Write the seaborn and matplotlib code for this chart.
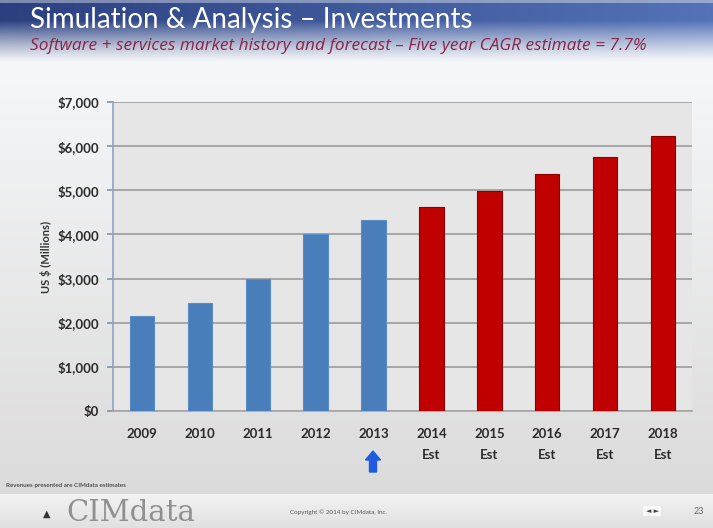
import matplotlib
matplotlib.use("Agg")
import matplotlib.pyplot as plt
import seaborn as sns
import numpy as np
import pandas as pd

# ---- data ----
years = ["2009", "2010", "2011", "2012", "2013", "2014", "2015", "2016", "2017", "2018"]
revenue = [2150, 2450, 3000, 4000, 4330, 4630, 4990, 5370, 5760, 6240]
period = ["History"] * 5 + ["Forecast"] * 5
tick_labels = ["2009", "2010", "2011", "2012", "2013",
               "2014\nEst", "2015\nEst", "2016\nEst", "2017\nEst", "2018\nEst"]
y_ticks = [0, 1000, 2000, 3000, 4000, 5000, 6000, 7000]
y_tick_labels = ["$0", "$1,000", "$2,000", "$3,000", "$4,000", "$5,000", "$6,000", "$7,000"]

title = "Simulation & Analysis \u2013 Investments"
subtitle = "Software + services market history and forecast \u2013 Five year CAGR estimate = 7.7%"
y_label = "US $ (Millions)"
note = "Revenues presented are CIMdata estimates"
copyright_text = "Copyright \u00a9 2014 by CIMdata, Inc."
page = "23"

df = pd.DataFrame({"year": years, "revenue": revenue, "period": period})

sns.set_theme(style="white")
plt.rcParams["font.family"] = ["Lato", "DejaVu Sans"]

W, H = 713, 528
fig = plt.figure(figsize=(W / 100, H / 100), dpi=100)

# ---- slide background ----
bg = fig.add_axes([0, 0, 1, 1], zorder=-10)
yy, xx = np.mgrid[0:H, 0:W].astype(float)
img = np.zeros((H, W, 3))
t = np.clip((yy - 62) / (490 - 62), 0, 1)
top_c = np.array([0.965, 0.97, 0.975])
bot_c = np.array([0.86, 0.86, 0.86])
img[:] = top_c * (1 - t[..., None]) + bot_c * t[..., None]
blue_l = np.array([0.17, 0.25, 0.50])
blue_r = np.array([0.33, 0.45, 0.72])
bx = (xx / W)[..., None]
blue = blue_l * (1 - bx) + blue_r * bx
a = np.clip(1 - (yy - 20) / 42, 0, 1) ** 1.2
a[yy < 3] *= 0.6
img = img * (1 - a[..., None]) + blue * a[..., None]
f = (yy >= 494)
tf = np.clip((yy - 494) / 34, 0, 1)
foot = np.array([0.95, 0.95, 0.95]) * (1 - tf[..., None]) + np.array([0.88, 0.88, 0.88]) * tf[..., None]
img[f] = foot[f]
bg.imshow(img, extent=[0, 1, 0, 1], aspect="auto", origin="upper")
bg.set_xlim(0, 1)
bg.set_ylim(0, 1)
bg.axis("off")

# ---- chart ----
ax = fig.add_axes([113 / W, 1 - 411 / H, (692 - 113) / W, (411 - 102) / H])
ax.set_facecolor("#e6e6e6")
sns.barplot(data=df, x="year", y="revenue", hue="period",
            palette={"History": "#4a7ebb", "Forecast": "#c00000"},
            saturation=1, width=0.42, dodge=False, legend=False, ax=ax,
            edgecolor=None, linewidth=0)
for p, per in zip(ax.patches, period):
    p.set_edgecolor("#8a0000" if per == "Forecast" else "#5a8cc8")
    p.set_linewidth(0.8)
    p.set_zorder(3)

ax.set_ylim(0, 7000)
ax.set_xlim(-0.5, len(years) - 0.5)
ax.set_yticks(y_ticks)
ax.set_yticklabels(y_tick_labels, fontsize=9.5, fontweight="bold", color="#2a2a2a")
ax.set_xticks(range(len(years)))
ax.set_xticklabels(tick_labels, fontsize=9.5, fontweight="bold", color="#2a2a2a",
                   linespacing=1.9)
ax.yaxis.grid(True, color="#a6a6a6", linewidth=1.4, zorder=0)
ax.set_axisbelow(True)
ax.tick_params(axis="y", length=4, color="#8899aa", pad=6, left=True)
ax.tick_params(axis="x", length=0, pad=12)
for s in ["top", "right"]:
    ax.spines[s].set_visible(False)
ax.spines["left"].set_color("#8fa3c0")
ax.spines["left"].set_linewidth(1.2)
ax.spines["bottom"].set_color("#a6a6a6")
ax.spines["bottom"].set_linewidth(1.2)
ax.set_xlabel("")
ax.set_ylabel(y_label, fontsize=8, fontweight="bold", color="#333333", labelpad=4)

# ---- text ----
fig.text(30 / W, 1 - 20 / H, title, fontsize=20, color="white", va="center", ha="left")
fig.text(30 / W, 1 - 46 / H, subtitle, fontsize=12.4, color="#8b2346",
         style="italic", va="center", ha="left", family=["Open Sans", "DejaVu Sans"])
fig.text(6 / W, 1 - 486 / H, note, fontsize=4.5, color="#222222", va="center", ha="left")
fig.text(66 / W, 1 - 513 / H, "CIMdata", fontsize=21, color="#909090",
         family=["DejaVu Serif"], va="center", ha="left")
fig.text(47 / W, 1 - 514 / H, "\u25b2", fontsize=7, color="#333333", va="center", ha="center")
fig.text(290 / W, 1 - 512 / H, copyright_text, fontsize=4.5, color="#555555",
         va="center", ha="left")
fig.text(652 / W, 1 - 511 / H, "\u25c4 \u25ba", fontsize=5, color="#444444", va="center",
         ha="center", family=["DejaVu Sans"],
         bbox=dict(boxstyle="square,pad=0.3", fc="#f8f8f8", ec="none"))
fig.text(699 / W, 1 - 511 / H, page, fontsize=6.5, color="#666666", va="center", ha="center")

fig.patches.append(matplotlib.patches.FancyArrow(
    373 / W, 1 - 472 / H, 0, 21 / H, width=7 / W, head_width=15 / W,
    head_length=9 / H, length_includes_head=True, color="#1e5be0",
    transform=fig.transFigure, figure=fig))

fig.savefig("out.png", dpi=100)
